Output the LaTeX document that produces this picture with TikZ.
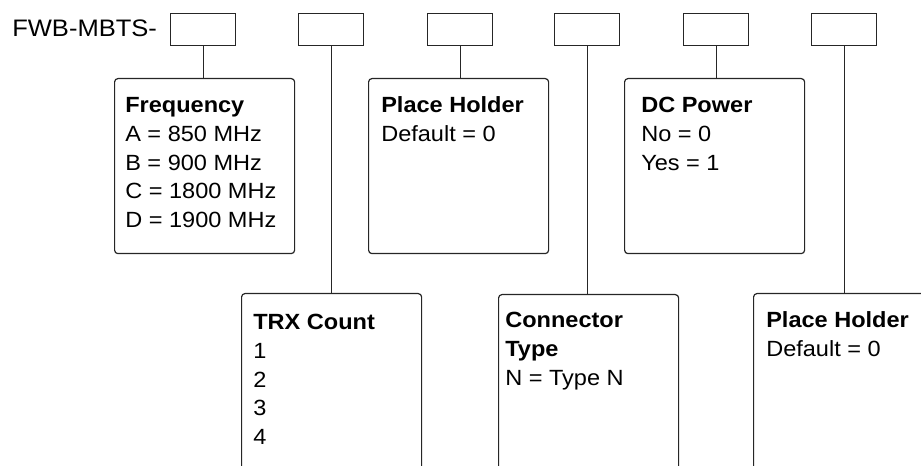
\documentclass[tikz,border=0pt]{standalone}
\usepackage{fontspec}
\setmainfont[FakeStretch=1.07]{Liberation Sans}
\begin{document}
\begin{tikzpicture}[x=0.75pt,y=-0.75pt,
  every node/.style={font=\fontsize{16.5pt}{21.4pt}\selectfont},
  slot/.style={draw=black!85,line width=0.9pt,minimum width=48.75pt,minimum height=24pt,inner sep=0pt,anchor=north west},
  infobox/.style={draw=black!85,line width=0.9pt,rounded corners=2.5pt,minimum width=135pt,inner sep=0pt,anchor=north west},
  toprow/.style={infobox,minimum height=131.25pt},
  botrow/.style={infobox,minimum height=150pt},
  label/.style={inner sep=0pt,anchor=base west},
  link/.style={draw=black!85,line width=0.9pt}]
\useasboundingbox (0,0) rectangle (921,466);
\clip (0,0) rectangle (921,466);
% prefix
\node[label,font=\fontsize{17.9pt}{21.4pt}\selectfont] (prefix) at (12,37) {FWB-MBTS-};
% slots
\node[slot] (s1) at (170,13) {};
\node[slot] (s2) at (298,13) {};
\node[slot] (s3) at (427,13) {};
\node[slot] (s4) at (554,13) {};
\node[slot] (s5) at (683,13) {};
\node[slot] (s6) at (811,13) {};
% info boxes
\node[toprow] (freq) at (114,78) {};
\node[toprow] (ph1) at (368,78) {};
\node[toprow] (dc) at (624,78) {};
\node[botrow] (trx) at (241,293) {};
\node[botrow] (ct) at (498,294) {};
\node[botrow] (ph2) at (753,293) {};
% texts
\node[label] (freqt) at (125,113) {\begin{tabular}[t]{@{}l@{}}\textbf{Frequency}\\A = 850 MHz\\B = 900 MHz\\C = 1800 MHz\\D = 1900 MHz\end{tabular}};
\node[label] (ph1t) at (381,113) {\begin{tabular}[t]{@{}l@{}}\textbf{Place Holder}\\Default = 0\end{tabular}};
\node[label] (dct) at (641,113) {\begin{tabular}[t]{@{}l@{}}\textbf{DC Power}\\No = 0\\Yes = 1\end{tabular}};
\node[label] (trxt) at (253,330) {\begin{tabular}[t]{@{}l@{}}\textbf{TRX Count}\\1\\2\\3\\4\end{tabular}};
\node[label] (ctt) at (505,328) {\begin{tabular}[t]{@{}l@{}}\textbf{Connector}\\\textbf{Type}\\N = Type N\end{tabular}};
\node[label] (ph2t) at (766,328) {\begin{tabular}[t]{@{}l@{}}\textbf{Place Holder}\\Default = 0\end{tabular}};
% connectors
\draw[link] (s1.south) -- (s1.south |- freq.north);
\draw[link] (s2.south) -- (s2.south |- trx.north);
\draw[link] (s3.south) -- (s3.south |- ph1.north);
\draw[link] (s4.south) -- (s4.south |- ct.north);
\draw[link] (s5.south) -- (s5.south |- dc.north);
\draw[link] (s6.south) -- (s6.south |- ph2.north);
\end{tikzpicture}
\end{document}
